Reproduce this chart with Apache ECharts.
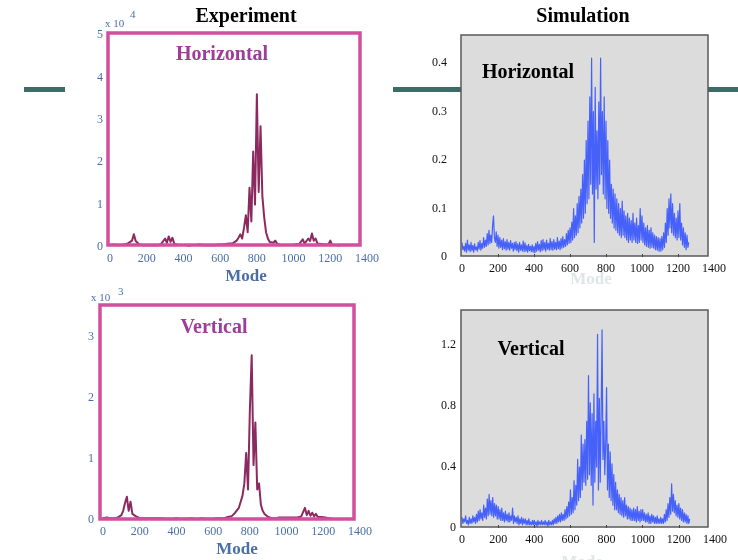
<!DOCTYPE html>
<html>
<head>
<meta charset="utf-8">
<script src="https://cdn.jsdelivr.net/npm/echarts@6/dist/echarts.min.js"></script>
<style>
  html, body { margin: 0; padding: 0; background: #ffffff; }
  #chart { width: 738px; height: 560px; }
</style>
</head>
<body>
<div id="chart"></div>
<script>
// Mode numbers for the measured spectra (every 10th mode)
var expModes = [
  0, 10, 20, 30, 40, 50, 60, 70, 80, 90,
  100, 110, 120, 130, 140, 150, 160, 170, 180, 190,
  200, 210, 220, 230, 240, 250, 260, 270, 280, 290,
  300, 310, 320, 330, 340, 350, 360, 370, 380, 390,
  400, 410, 420, 430, 440, 450, 460, 470, 480, 490,
  500, 510, 520, 530, 540, 550, 560, 570, 580, 590,
  600, 610, 620, 630, 640, 650, 660, 670, 680, 690,
  700, 710, 720, 730, 740, 750, 760, 770, 780, 790,
  800, 810, 820, 830, 840, 850, 860, 870, 880, 890,
  900, 910, 920, 930, 940, 950, 960, 970, 980, 990,
  1000, 1010, 1020, 1030, 1040, 1050, 1060, 1070, 1080, 1090,
  1100, 1110, 1120, 1130, 1140, 1150, 1160, 1170, 1180, 1190,
  1200, 1210, 1220, 1230, 1240, 1250
];

// Mode numbers for the simulated spectra (every 5th mode)
var simModes = [
  0, 5, 10, 15, 20, 25, 30, 35, 40, 45,
  50, 55, 60, 65, 70, 75, 80, 85, 90, 95,
  100, 105, 110, 115, 120, 125, 130, 135, 140, 145,
  150, 155, 160, 165, 170, 175, 180, 185, 190, 195,
  200, 205, 210, 215, 220, 225, 230, 235, 240, 245,
  250, 255, 260, 265, 270, 275, 280, 285, 290, 295,
  300, 305, 310, 315, 320, 325, 330, 335, 340, 345,
  350, 355, 360, 365, 370, 375, 380, 385, 390, 395,
  400, 405, 410, 415, 420, 425, 430, 435, 440, 445,
  450, 455, 460, 465, 470, 475, 480, 485, 490, 495,
  500, 505, 510, 515, 520, 525, 530, 535, 540, 545,
  550, 555, 560, 565, 570, 575, 580, 585, 590, 595,
  600, 605, 610, 615, 620, 625, 630, 635, 640, 645,
  650, 655, 660, 665, 670, 675, 680, 685, 690, 695,
  700, 705, 710, 715, 720, 725, 730, 735, 740, 745,
  750, 755, 760, 765, 770, 775, 780, 785, 790, 795,
  800, 805, 810, 815, 820, 825, 830, 835, 840, 845,
  850, 855, 860, 865, 870, 875, 880, 885, 890, 895,
  900, 905, 910, 915, 920, 925, 930, 935, 940, 945,
  950, 955, 960, 965, 970, 975, 980, 985, 990, 995,
  1000, 1005, 1010, 1015, 1020, 1025, 1030, 1035, 1040, 1045,
  1050, 1055, 1060, 1065, 1070, 1075, 1080, 1085, 1090, 1095,
  1100, 1105, 1110, 1115, 1120, 1125, 1130, 1135, 1140, 1145,
  1150, 1155, 1160, 1165, 1170, 1175, 1180, 1185, 1190, 1195,
  1200, 1205, 1210, 1215, 1220, 1225, 1230, 1235, 1240, 1245,
  1250, 1255, 1260
];

// Experiment, horizontal (x 10^4)
var expHorizontal = [
  0.05, 0.04, 0.06, 0.05, 0.04, 0.06, 0.05, 0.04, 0.06, 0.07,
  0.09, 0.12, 0.15, 0.30, 0.14, 0.18, 0.06, 0.05, 0.04, 0.05,
  0.04, 0.05, 0.04, 0.05, 0.04, 0.05, 0.04, 0.05, 0.08, 0.12,
  0.20, 0.10, 0.25, 0.12, 0.22, 0.08, 0.10, 0.05, 0.04, 0.05,
  0.04, 0.05, 0.04, 0.03, 0.04, 0.05, 0.04, 0.05, 0.04, 0.06,
  0.05, 0.04, 0.05, 0.04, 0.05, 0.04, 0.05, 0.04, 0.05, 0.06,
  0.05, 0.06, 0.05, 0.07, 0.06, 0.08, 0.10, 0.09, 0.13, 0.15,
  0.22, 0.30, 0.20, 0.45, 0.75, 0.35, 1.40, 0.60, 2.25, 1.00,
  3.60, 1.30, 2.85, 1.20, 0.70, 0.35, 0.20, 0.12, 0.08, 0.10,
  0.15, 0.08, 0.06, 0.05, 0.06, 0.05, 0.04, 0.05, 0.06, 0.05,
  0.07, 0.06, 0.08, 0.07, 0.10, 0.18, 0.08, 0.12, 0.20, 0.14,
  0.32, 0.15, 0.20, 0.08, 0.06, 0.07, 0.05, 0.06, 0.05, 0.06,
  0.15, 0.05, 0.04, 0.05, 0.04, 0.03
];

// Simulation, horizontal
var simHorizontal = [
  0.030, 0.015, 0.022, 0.012, 0.028, 0.010, 0.035, 0.014, 0.025, 0.011,
  0.030, 0.013, 0.024, 0.010, 0.027, 0.015, 0.021, 0.012, 0.030, 0.016,
  0.034, 0.014, 0.028, 0.018, 0.040, 0.020, 0.035, 0.022, 0.048, 0.025,
  0.055, 0.028, 0.045, 0.030, 0.065, 0.085, 0.040, 0.030, 0.052, 0.022,
  0.045, 0.018, 0.040, 0.020, 0.035, 0.015, 0.038, 0.017, 0.032, 0.014,
  0.036, 0.016, 0.030, 0.014, 0.034, 0.018, 0.028, 0.012, 0.030, 0.015,
  0.032, 0.013, 0.027, 0.010, 0.030, 0.014, 0.025, 0.012, 0.033, 0.011,
  0.029, 0.012, 0.024, 0.010, 0.026, 0.013, 0.022, 0.011, 0.025, 0.010,
  0.022, 0.009, 0.028, 0.012, 0.032, 0.014, 0.026, 0.011, 0.034, 0.013,
  0.036, 0.015, 0.030, 0.012, 0.035, 0.016, 0.028, 0.014, 0.038, 0.015,
  0.032, 0.014, 0.036, 0.016, 0.030, 0.015, 0.040, 0.017, 0.033, 0.015,
  0.038, 0.018, 0.042, 0.020, 0.036, 0.022, 0.048, 0.025, 0.055, 0.028,
  0.060, 0.030, 0.072, 0.035, 0.100, 0.040, 0.085, 0.045, 0.110, 0.050,
  0.125, 0.060, 0.140, 0.070, 0.170, 0.080, 0.200, 0.090, 0.240, 0.110,
  0.280, 0.120, 0.330, 0.150, 0.410, 0.130, 0.300, 0.030, 0.350, 0.140,
  0.260, 0.120, 0.320, 0.150, 0.410, 0.170, 0.300, 0.130, 0.330, 0.120,
  0.280, 0.100, 0.240, 0.090, 0.200, 0.080, 0.150, 0.070, 0.140, 0.060,
  0.130, 0.055, 0.120, 0.050, 0.110, 0.045, 0.100, 0.040, 0.115, 0.045,
  0.095, 0.040, 0.085, 0.035, 0.090, 0.030, 0.080, 0.035, 0.075, 0.030,
  0.090, 0.035, 0.070, 0.030, 0.080, 0.028, 0.065, 0.030, 0.100, 0.035,
  0.085, 0.030, 0.070, 0.025, 0.060, 0.022, 0.065, 0.020, 0.055, 0.018,
  0.060, 0.020, 0.050, 0.018, 0.045, 0.015, 0.042, 0.014, 0.040, 0.012,
  0.038, 0.012, 0.042, 0.015, 0.050, 0.020, 0.070, 0.030, 0.100, 0.045,
  0.120, 0.060, 0.130, 0.050, 0.110, 0.045, 0.090, 0.040, 0.080, 0.035,
  0.095, 0.040, 0.110, 0.035, 0.070, 0.025, 0.060, 0.020, 0.050, 0.015,
  0.045, 0.020, 0.030
];

// Experiment, vertical (x 10^3)
var expVertical = [
  0.03, 0.02, 0.04, 0.02, 0.03, 0.02, 0.03, 0.02, 0.04, 0.05,
  0.08, 0.15, 0.28, 0.38, 0.15, 0.30, 0.10, 0.08, 0.06, 0.04,
  0.03, 0.02, 0.03, 0.02, 0.03, 0.02, 0.03, 0.02, 0.03, 0.02,
  0.03, 0.02, 0.03, 0.02, 0.02, 0.03, 0.02, 0.03, 0.02, 0.02,
  0.03, 0.02, 0.02, 0.03, 0.02, 0.03, 0.02, 0.02, 0.03, 0.02,
  0.02, 0.03, 0.02, 0.02, 0.03, 0.02, 0.02, 0.03, 0.02, 0.03,
  0.02, 0.03, 0.03, 0.02, 0.03, 0.04, 0.03, 0.04, 0.05, 0.05,
  0.06, 0.08, 0.12, 0.15, 0.20, 0.30, 0.40, 0.60, 1.10, 0.50,
  1.80, 2.70, 0.90, 1.60, 0.50, 0.60, 0.25, 0.15, 0.10, 0.08,
  0.05, 0.04, 0.03, 0.04, 0.03, 0.03, 0.04, 0.03, 0.04, 0.03,
  0.04, 0.03, 0.04, 0.05, 0.04, 0.05, 0.04, 0.05, 0.06, 0.06,
  0.20, 0.08, 0.15, 0.07, 0.12, 0.06, 0.10, 0.05, 0.07, 0.05,
  0.06, 0.04, 0.05, 0.03, 0.04, 0.02
];

// Simulation, vertical
var simVertical = [
  0.07, 0.03, 0.06, 0.04, 0.08, 0.03, 0.05, 0.02, 0.07, 0.03,
  0.06, 0.03, 0.08, 0.04, 0.07, 0.03, 0.09, 0.04, 0.11, 0.05,
  0.12, 0.06, 0.10, 0.05, 0.15, 0.07, 0.13, 0.06, 0.19, 0.08,
  0.22, 0.09, 0.18, 0.08, 0.20, 0.07, 0.16, 0.08, 0.15, 0.06,
  0.14, 0.06, 0.12, 0.05, 0.13, 0.05, 0.10, 0.04, 0.11, 0.05,
  0.09, 0.04, 0.10, 0.04, 0.08, 0.05, 0.13, 0.03, 0.08, 0.04,
  0.07, 0.03, 0.08, 0.02, 0.06, 0.03, 0.07, 0.02, 0.06, 0.03,
  0.06, 0.02, 0.05, 0.02, 0.06, 0.02, 0.04, 0.02, 0.05, 0.02,
  0.05, 0.02, 0.04, 0.01, 0.05, 0.02, 0.04, 0.02, 0.05, 0.02,
  0.04, 0.02, 0.05, 0.02, 0.04, 0.01, 0.05, 0.02, 0.04, 0.02,
  0.05, 0.02, 0.06, 0.03, 0.07, 0.03, 0.08, 0.04, 0.09, 0.04,
  0.10, 0.05, 0.09, 0.05, 0.12, 0.06, 0.14, 0.07, 0.17, 0.08,
  0.25, 0.09, 0.20, 0.10, 0.31, 0.12, 0.28, 0.15, 0.45, 0.18,
  0.40, 0.20, 0.61, 0.25, 0.55, 0.30, 0.58, 0.28, 0.70, 0.32,
  1.00, 0.35, 0.82, 0.28, 0.75, 0.15, 0.88, 0.30, 0.70, 0.40,
  1.27, 0.25, 0.85, 0.30, 0.75, 1.30, 0.45, 0.70, 0.35, 0.55,
  0.92, 0.25, 0.55, 0.20, 0.50, 0.18, 0.42, 0.15, 0.35, 0.12,
  0.30, 0.12, 0.25, 0.10, 0.22, 0.09, 0.20, 0.08, 0.18, 0.07,
  0.20, 0.08, 0.15, 0.06, 0.14, 0.06, 0.13, 0.05, 0.12, 0.05,
  0.13, 0.05, 0.12, 0.04, 0.14, 0.05, 0.11, 0.04, 0.12, 0.05,
  0.12, 0.05, 0.10, 0.04, 0.09, 0.04, 0.10, 0.03, 0.08, 0.03,
  0.09, 0.04, 0.08, 0.03, 0.07, 0.03, 0.08, 0.03, 0.06, 0.03,
  0.07, 0.03, 0.06, 0.03, 0.09, 0.04, 0.12, 0.05, 0.16, 0.07,
  0.20, 0.09, 0.29, 0.11, 0.22, 0.10, 0.18, 0.08, 0.15, 0.07,
  0.16, 0.06, 0.13, 0.05, 0.12, 0.04, 0.10, 0.04, 0.09, 0.03,
  0.08, 0.03, 0.06
];

// Tick labels
var modeTicks = [0, 200, 400, 600, 800, 1000, 1200, 1400];
var innerTicks = [200, 400, 600, 800, 1000, 1200];
var expHTicks = ['0', '1', '2', '3', '4', '5'];
var simHTicks = ['0', '0.1', '0.2', '0.3', '0.4'];
var expVTicks = ['0', '1', '2', '3'];
var simVTicks = ['0', '0.4', '0.8', '1.2'];

function pairs(xs, ys) {
  return xs.map(function (x, i) { return [x, ys[i]]; });
}

var SERIF = '"Liberation Serif", "DejaVu Serif", serif';
var EXP_LABEL = '#4a6fa8';
var EXP_LINE = '#8c2a60';
var SIM_LINE = '#2b4bff';
var PINK = '#d24f9d';
var PURPLE = '#9e3c98';
var TEAL = '#3d6b66';

var grids = [
  { left: 110, top: 35, width: 257, height: 212 },
  { left: 462, top: 63, width: 252, height: 194 },
  { left: 103, top: 337, width: 257, height: 183 },
  { left: 462, top: 345, width: 253, height: 183 }
];

function xAxisFor(idx, color, tick) {
  return {
    type: 'value', gridIndex: idx, min: 0, max: 1400, interval: 200,
    axisLine: { show: false },
    axisTick: { show: tick, inside: true, length: 3, customValues: innerTicks,
      lineStyle: { color: '#444' } },
    splitLine: { show: false },
    axisLabel: {
      color: color, fontFamily: SERIF, fontSize: 12, margin: 6,
      showMinLabel: true, showMaxLabel: true,
      formatter: function (v) { return modeTicks.indexOf(v) >= 0 ? String(v) : ''; }
    }
  };
}

function yAxisFor(idx, max, interval, labels, color, margin) {
  return {
    type: 'value', gridIndex: idx, min: 0, max: max, interval: interval,
    axisLine: { show: false },
    axisTick: { show: false },
    splitLine: { show: false },
    axisLabel: {
      color: color, fontFamily: SERIF, fontSize: 12, margin: margin,
      formatter: function (v) { return labels[Math.round(v / interval)]; }
    }
  };
}

function lineSeries(idx, xs, ys, color, width, opacity) {
  return {
    type: 'line', xAxisIndex: idx, yAxisIndex: idx,
    data: pairs(xs, ys), showSymbol: false, symbol: 'none',
    clip: false, silent: true, z: 5,
    lineStyle: { color: color, width: width, opacity: opacity, join: 'round' }
  };
}

function txt(x, y, text, size, color, weight, align) {
  return {
    type: 'text', x: x, y: y, z: 20, silent: true,
    style: {
      text: text, fill: color, align: align || 'center', verticalAlign: 'middle',
      font: (weight || 'bold') + ' ' + size + 'px ' + SERIF
    }
  };
}

var chart = echarts.init(document.getElementById('chart'), null, { renderer: 'canvas' });

chart.setOption({
  animation: false,
  backgroundColor: '#ffffff',
  grid: grids,
  xAxis: [
    xAxisFor(0, EXP_LABEL, false),
    xAxisFor(1, '#111', true),
    xAxisFor(2, EXP_LABEL, false),
    xAxisFor(3, '#111', true)
  ],
  yAxis: [
    yAxisFor(0, 5, 1, expHTicks, EXP_LABEL, 7),
    yAxisFor(1, 0.4, 0.1, simHTicks, '#111', 15),
    yAxisFor(2, 3, 1, expVTicks, EXP_LABEL, 9),
    yAxisFor(3, 1.2, 0.4, simVTicks, '#111', 6)
  ],
  series: [
    lineSeries(0, expModes, expHorizontal, EXP_LINE, 2, 1),
    lineSeries(1, simModes, simHorizontal, SIM_LINE, 1.2, 0.85),
    lineSeries(2, expModes, expVertical, EXP_LINE, 2, 1),
    lineSeries(3, simModes, simVertical, SIM_LINE, 1.2, 0.85)
  ],
  graphic: [
    // slide rule lines
    { type: 'rect', z: -20, silent: true, shape: { x: 24, y: 87, width: 41, height: 5 }, style: { fill: TEAL } },
    { type: 'rect', z: -20, silent: true, shape: { x: 393, y: 87, width: 68, height: 5 }, style: { fill: TEAL } },
    { type: 'rect', z: -20, silent: true, shape: { x: 708, y: 87, width: 30, height: 5 }, style: { fill: TEAL } },
    // simulation panels: grey plotting areas
    { type: 'rect', z: -10, silent: true, shape: { x: 461, y: 35, width: 247, height: 221 },
      style: { fill: '#dcdcdc', stroke: '#5a5a5a', lineWidth: 1.5 } },
    { type: 'rect', z: -10, silent: true, shape: { x: 461, y: 310, width: 247, height: 217 },
      style: { fill: '#dcdcdc', stroke: '#5a5a5a', lineWidth: 1.5 } },
    // experiment panels: pink frames
    { type: 'rect', z: 10, silent: true, shape: { x: 108, y: 33, width: 252, height: 212 },
      style: { fill: null, stroke: PINK, lineWidth: 3.5 } },
    { type: 'rect', z: 10, silent: true, shape: { x: 100, y: 305, width: 254, height: 214 },
      style: { fill: null, stroke: PINK, lineWidth: 3.5 } },
    // column titles
    txt(246, 17, 'Experiment', 20, '#000'),
    txt(583, 17, 'Simulation', 20, '#000'),
    // panel titles
    txt(222, 55, 'Horizontal', 20, PURPLE),
    txt(528, 73, 'Horizontal', 20, '#000'),
    txt(214, 328, 'Vertical', 20, PURPLE),
    txt(531, 350, 'Vertical', 20, '#000'),
    // scale multipliers
    txt(105, 24, 'x 10', 11, EXP_LABEL, 'normal', 'left'),
    txt(130, 15, '4', 11, EXP_LABEL, 'normal', 'left'),
    txt(91, 298, 'x 10', 11, EXP_LABEL, 'normal', 'left'),
    txt(118, 292, '3', 11, EXP_LABEL, 'normal', 'left'),
    // axis names
    txt(246, 277, 'Mode', 17, EXP_LABEL),
    txt(591, 280, 'Mode', 17, '#dfe6e6'),
    txt(237, 550, 'Mode', 17, EXP_LABEL),
    txt(582, 563, 'Mode', 17, '#dfe6e6')
  ]
});
</script>
</body>
</html>
